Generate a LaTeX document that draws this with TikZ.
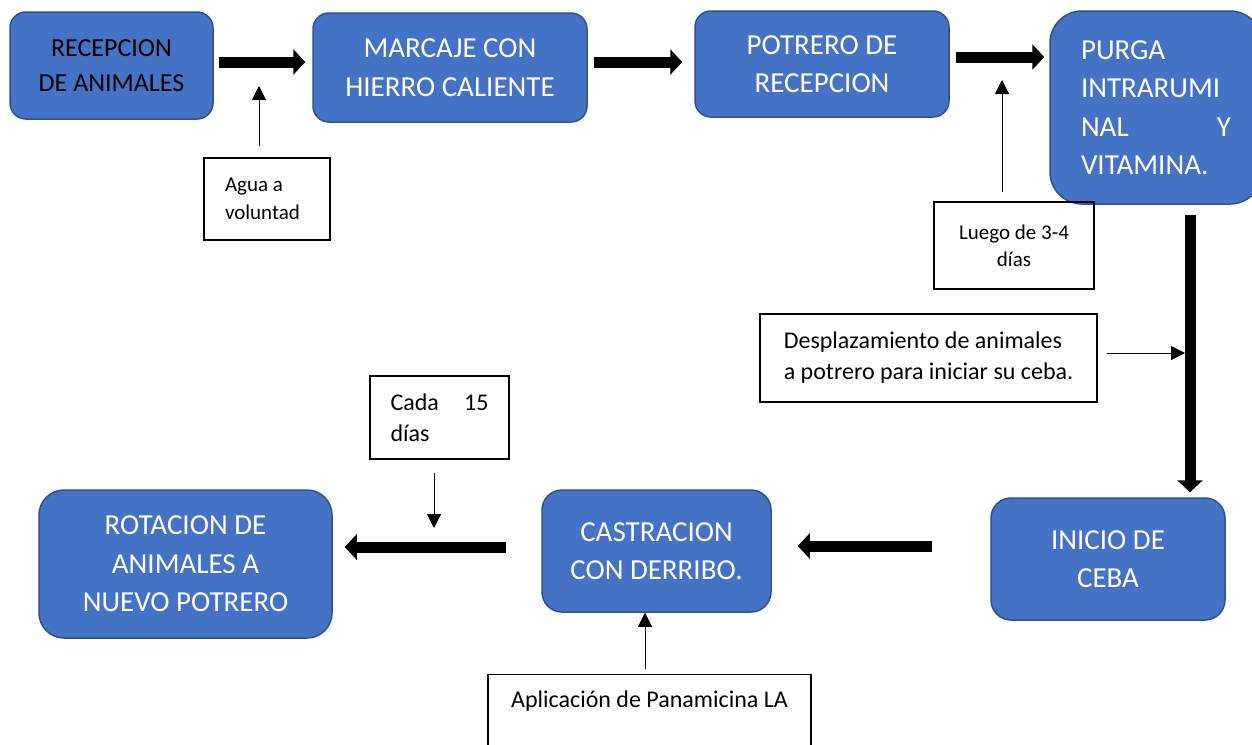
\documentclass[tikz,border=0pt]{standalone}
\usepackage{fontspec}
\setmainfont{Carlito}
\usetikzlibrary{arrows.meta}
\definecolor{azul}{HTML}{4472C4}
\definecolor{borde}{HTML}{2F528F}
\begin{document}
\begin{tikzpicture}[x=1pt,y=-1pt,
		caja/.style={draw=borde,fill=azul,line width=1.5pt,rounded corners=16pt,text=white,align=center,inner sep=0pt,font=\fontsize{29}{38.5}\selectfont},
		nota/.style={draw,line width=1.2pt,inner sep=0pt,align=flush left,font=\fontsize{24}{31}\selectfont},
		grueso/.style={line width=11pt,-{Triangle[width=25pt,length=12pt]}},
		fino/.style={line width=1pt,-{Triangle[width=14pt,length=14pt]}}]
						\useasboundingbox (0,0) rectangle (1252,744);
						% cajas del proceso
						\node[caja,text=black,font=\fontsize{26}{34.5}\selectfont,minimum width=203pt,minimum height=107pt] (rec) at (111.5,65.5) {RECEPCION\\DE ANIMALES};
						\node[caja,minimum width=274pt,minimum height=109pt] (marc) at (450,67.5) {MARCAJE CON\\HIERRO CALIENTE};
						\node[caja,minimum width=254pt,minimum height=106pt] (potr) at (822,64) {POTRERO DE\\RECEPCION};
						\node[caja,rounded corners=32pt,align=flush left,text width=150pt,minimum width=212pt,minimum height=193pt] (purga) at (1156,107.5) {PURGA\\INTRARUMI\\NAL\hfill Y\\VITAMINA.};
						\node[caja,rounded corners=20pt,minimum width=234pt,minimum height=122pt] (ini) at (1108,559) {INICIO DE\\CEBA};
						\node[caja,rounded corners=20pt,minimum width=229pt,minimum height=122pt] (cast) at (656.5,551) {CASTRACION\\CON DERRIBO.};
						\node[caja,rounded corners=25pt,minimum width=293pt,minimum height=148pt] (rot) at (185.5,564) {ROTACION DE\\ANIMALES A\\NUEVO POTRERO};
						% notas
						\node[nota,font=\fontsize{21}{28}\selectfont,text width=84pt,minimum width=126pt,minimum height=82pt] (agua) at (267,199) {Agua a\\voluntad};
						\node[nota,font=\fontsize{21}{27}\selectfont,align=center,minimum width=160pt,minimum height=87pt] (luego) at (1014,245.5) {Luego de 3-4\\días};
						\node[nota,align=left,minimum width=337pt,minimum height=88pt] (desp) at (928.5,358) {Desplazamiento de animales\\a potrero para iniciar su ceba.};
						\node[nota,text width=98pt,minimum width=139pt,minimum height=83pt] (cada) at (439.5,417.5) {Cada\hfill 15\\días};
						\node[nota,align=center,anchor=north,minimum width=323pt,inner ysep=16pt,text height=17pt,text depth=60pt] (pana) at (649.5,674) {Aplicación de Panamicina LA};
						% puntas de las flechas finas
						\coordinate (pAgua) at (259,86);
						\coordinate (pLuego) at (1002,80);
						\coordinate (pDesp) at (1185,353);
						\coordinate (pCada) at (434,528);
						% flechas gruesas
						\draw[grueso] ([xshift=5pt,yshift=3.5pt]rec.east) -- ([xshift=-7pt,yshift=3.5pt]rec.east -| marc.west);
						\draw[grueso] ([xshift=6pt,yshift=5.5pt]marc.east) -- ([xshift=-12pt,yshift=5.5pt]marc.east -| potr.west);
						\draw[grueso] ([xshift=6.5pt,yshift=7pt]potr.east) -- ([xshift=-5pt,yshift=7pt]potr.east -| purga.west);
						\draw[grueso] ([xshift=34pt,yshift=-10pt]purga.south) -- ([xshift=34pt,yshift=5pt]purga.south |- ini.north);
						\draw[grueso] ([xshift=-58pt,yshift=13pt]ini.west) -- ([xshift=26pt,yshift=13pt]ini.west -| cast.east);
						\draw[grueso] ([xshift=-35pt,yshift=4pt]cast.west) -- ([xshift=12pt,yshift=4pt]cast.west -| rot.east);
						% flechas finas
						\draw[fino] ([yshift=11pt]agua.north -| pAgua) -- (pAgua);
						\draw[fino] ([yshift=9pt]luego.north -| pLuego) -- (pLuego);
						\draw[fino] ([xshift=9pt]desp.east |- pDesp) -- (pDesp);
						\draw[fino] ([yshift=-13pt]cada.south -| pCada) -- (pCada);
						\draw[fino] ([xshift=-4.5pt,yshift=5pt]pana.north) -- ([xshift=-4.5pt]pana.north |- cast.south);
					\end{tikzpicture}
\end{document}
